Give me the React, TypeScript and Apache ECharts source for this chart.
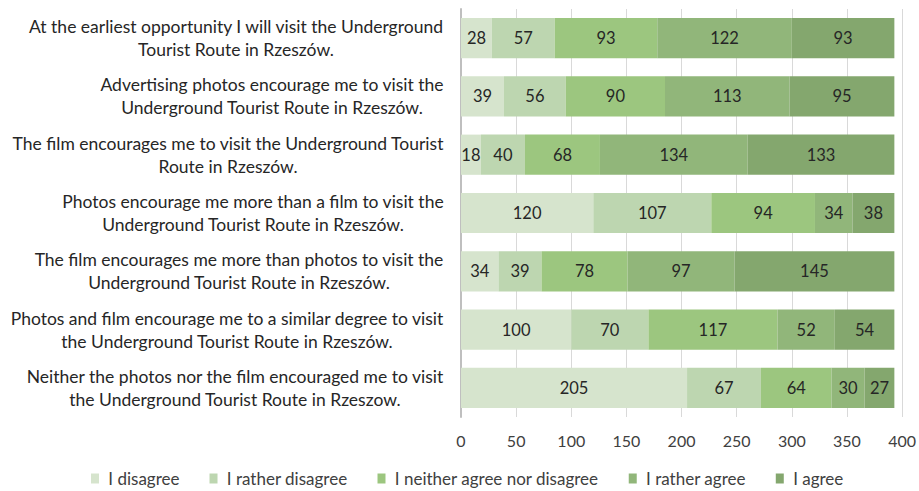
import React, { useEffect, useRef } from "react";
import * as echarts from "echarts";

const categories: string[] = [
  "At the earliest opportunity I will visit the Underground\nTourist Route in Rzeszów.",
  "Advertising photos encourage me to visit the\nUnderground Tourist Route in Rzeszów.",
  "The film encourages me to visit the Underground Tourist\nRoute in Rzeszów.",
  "Photos encourage me more than a film to visit the\nUnderground Tourist Route in Rzeszów.",
  "The film encourages me more than photos to visit the\nUnderground Tourist Route in Rzeszów.",
  "Photos and film encourage me to a similar degree to visit\nthe Underground Tourist Route in Rzeszów.",
  "Neither the photos nor the film encouraged me to visit\nthe Underground Tourist Route in Rzeszow.",
];

const seriesNames: string[] = [
  "I disagree",
  "I rather disagree",
  "I neither agree nor disagree",
  "I rather agree",
  "I agree",
];

const disagree: number[] = [28, 39, 18, 120, 34, 100, 205];
const ratherDisagree: number[] = [57, 56, 40, 107, 39, 70, 67];
const neither: number[] = [93, 90, 68, 94, 78, 117, 64];
const ratherAgree: number[] = [122, 113, 134, 34, 97, 52, 30];
const agree: number[] = [93, 95, 133, 38, 145, 54, 27];

const colors: string[] = ["#d6e4cd", "#bdd6b0", "#9cc67f", "#91b67a", "#84a76e"];

const FONT = "Lato, 'Liberation Sans', sans-serif";
const CAT_SIZE = 17.5;

export default function App() {
  const ref = useRef<HTMLDivElement>(null);

  useEffect(() => {
    if (!ref.current) return;
    const chart = echarts.init(ref.current, undefined, { renderer: "svg" });

    const canvas = document.createElement("canvas");
    const ctx = canvas.getContext("2d")!;
    ctx.font = `${CAT_SIZE}px Lato`;
    const rich: Record<string, any> = {};
    categories.forEach((c, i) => {
      const w = Math.max(...c.split("\n").map((l) => ctx.measureText(l).width));
      rich["r" + i] = {
        width: Math.ceil(w) + 2,
        align: "center",
        fontSize: CAT_SIZE,
        lineHeight: 23,
        fontFamily: FONT,
        color: "#262626",
      };
    });

    const dataSets = [disagree, ratherDisagree, neither, ratherAgree, agree];

    chart.setOption({
      animation: false,
      color: colors,
      textStyle: { fontFamily: FONT },
      grid: { left: 461, right: 15, top: 9, bottom: 74, containLabel: false },
      legend: {
        data: seriesNames,
        top: 470,
        left: 91,
        padding: 0,
        itemWidth: 8,
        itemHeight: 10,
        itemGap: 30,
        icon: "rect",
        formatter: (name: string) => " " + name,
        textStyle: {
          fontSize: 17,
          color: "#404040",
          fontFamily: FONT,
        },
      },
      xAxis: {
        type: "value",
        min: 0,
        max: 400,
        interval: 50,
        axisLine: { show: false },
        axisTick: { show: false },
        splitLine: { show: true, lineStyle: { color: "#d9d9d9", width: 1 } },
        axisLabel: { fontSize: 16, color: "#404040", margin: 15, fontFamily: FONT },
      },
      yAxis: {
        type: "category",
        inverse: true,
        data: categories,
        axisLine: { show: true, lineStyle: { color: "#bfbfbf", width: 2 } },
        axisTick: { show: false },
        axisLabel: {
          margin: 16,
          formatter: (value: string, index: number) =>
            value
              .split("\n")
              .map((l) => `{r${index}|${l}}`)
              .join("\n"),
          rich,
        },
      },
      series: seriesNames.map((name, i) => ({
        name,
        type: "bar",
        stack: "total",
        barCategoryGap: "31%",
        data: dataSets[i],
        itemStyle: { color: colors[i] },
        label: {
          show: true,
          position: "inside",
          color: "#262626",
          fontSize: 16.5,
          fontFamily: FONT,
        },
      })),
    });

    return () => chart.dispose();
  }, []);

  return (
    <div
      ref={ref}
      style={{ position: "fixed", left: 0, top: 0, width: 919, height: 491, background: "#fff" }}
    />
  );
}
